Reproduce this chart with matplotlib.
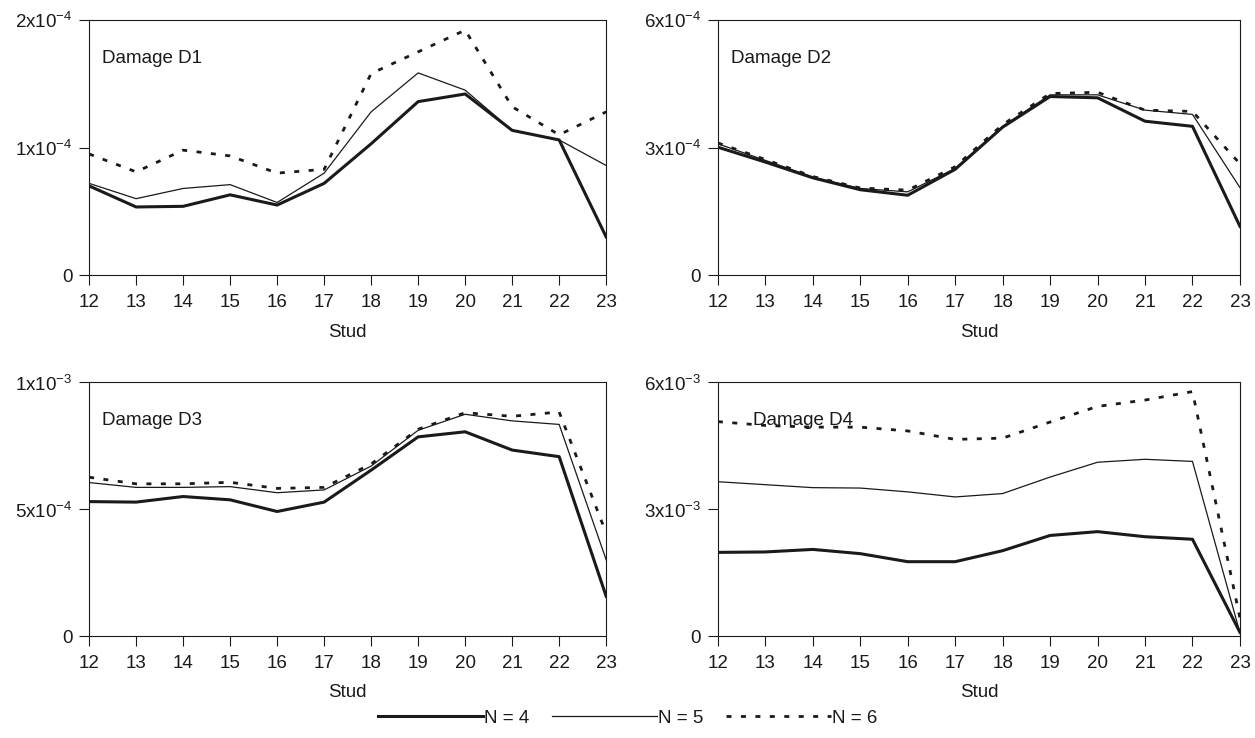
import matplotlib
matplotlib.use("Agg")
import matplotlib.pyplot as plt
import numpy as np

plt.rcParams['font.family'] = ['Liberation Sans', 'DejaVu Sans']
plt.rcParams['font.size'] = 13.5
plt.rcParams['mathtext.fontset'] = 'custom'
plt.rcParams['mathtext.rm'] = 'Liberation Sans'

studs = list(range(12, 24))

# Damage D1 (x1e-4)
d1_n4 = [0.70, 0.535, 0.54, 0.63, 0.55, 0.72, 1.03, 1.36, 1.42, 1.135, 1.06, 0.30]
d1_n5 = [0.72, 0.60, 0.68, 0.71, 0.57, 0.80, 1.28, 1.585, 1.45, 1.135, 1.06, 0.86]
d1_n6 = [0.95, 0.81, 0.98, 0.935, 0.80, 0.83, 1.58, 1.75, 1.92, 1.32, 1.10, 1.28]

# Damage D2 (x1e-4)
d2_n4 = [3.01, 2.66, 2.29, 2.01, 1.88, 2.49, 3.48, 4.20, 4.17, 3.62, 3.50, 1.15]
d2_n5 = [3.09, 2.70, 2.31, 2.04, 1.96, 2.51, 3.50, 4.24, 4.24, 3.88, 3.78, 2.06]
d2_n6 = [3.11, 2.72, 2.32, 2.05, 2.00, 2.55, 3.54, 4.27, 4.30, 3.88, 3.85, 2.62]

# Damage D3 (x1e-4)
d3_n4 = [5.30, 5.28, 5.50, 5.37, 4.91, 5.28, 6.54, 7.85, 8.05, 7.33, 7.07, 1.57]
d3_n5 = [6.05, 5.86, 5.86, 5.89, 5.65, 5.76, 6.70, 8.11, 8.74, 8.48, 8.34, 3.01]
d3_n6 = [6.26, 6.00, 6.00, 6.06, 5.82, 5.86, 6.78, 8.15, 8.80, 8.66, 8.83, 4.06]

# Damage D4 (x1e-3)
d4_n4 = [1.98, 1.99, 2.05, 1.95, 1.76, 1.76, 2.02, 2.38, 2.47, 2.35, 2.29, 0.09]
d4_n5 = [3.65, 3.58, 3.51, 3.50, 3.41, 3.29, 3.37, 3.76, 4.11, 4.18, 4.13, 0.08]
d4_n6 = [5.07, 4.98, 4.94, 4.94, 4.85, 4.65, 4.68, 5.06, 5.43, 5.58, 5.78, 0.43]

panels = [
    ("Damage D1", d1_n4, d1_n5, d1_n6, 1e-4, [0, 1, 2], ["0", "1x10$^{-4}$", "2x10$^{-4}$"]),
    ("Damage D2", d2_n4, d2_n5, d2_n6, 1e-4, [0, 3, 6], ["0", "3x10$^{-4}$", "6x10$^{-4}$"]),
    ("Damage D3", d3_n4, d3_n5, d3_n6, 1e-4, [0, 5, 10], ["0", "5x10$^{-4}$", "1x10$^{-3}$"]),
    ("Damage D4", d4_n4, d4_n5, d4_n6, 1e-3, [0, 3, 6], ["0", "3x10$^{-3}$", "6x10$^{-3}$"]),
]

positions = [
    [0.0710, 0.627, 0.412, 0.346],
    [0.572, 0.627, 0.416, 0.346],
    [0.0710, 0.138, 0.412, 0.344],
    [0.572, 0.138, 0.416, 0.344],
]
label_x = [0.024, 0.026, 0.024, 0.067]

ink = '#1a1a1a'
fig = plt.figure(figsize=(12.55, 7.38), dpi=100)

handles = []
for i, (title, n4, n5, n6, scale, yt, ylab) in enumerate(panels):
    ax = fig.add_axes(positions[i])
    s = np.array(studs)
    h4, = ax.plot(s, np.array(n4) * scale, color=ink, lw=2.2)
    h5, = ax.plot(s, np.array(n5) * scale, color=ink, lw=0.9)
    h6, = ax.plot(s, np.array(n6) * scale, color=ink, lw=2.0, linestyle=(0, (1.8, 3.4)))
    if i == 0:
        handles = [h4, h5, h6]
    ax.set_xlim(12, 23)
    ax.set_ylim(0, yt[-1] * scale)
    ax.set_xticks(studs)
    ax.set_yticks([v * scale for v in yt])
    ax.set_yticklabels(ylab)
    ax.tick_params(direction='out', length=7, width=0.8, colors=ink, labelsize=13.5)
    ax.tick_params(axis='x', pad=6.5)
    ax.tick_params(axis='y', pad=5)
    for sp in ax.spines.values():
        sp.set_linewidth(0.8)
        sp.set_color(ink)
    ax.set_xlabel("Stud", color=ink, fontsize=13.5, labelpad=9)
    ax.text(label_x[i], 0.85, title, transform=ax.transAxes, ha='left', va='center',
            fontsize=13.5, color=ink)

fig.legend(handles, ["N = 4", "N = 5", "N = 6"], loc='center', bbox_to_anchor=(0.5, 0.027),
           ncol=3, frameon=False, handlelength=5.6, handletextpad=0.05,
           columnspacing=1.2, fontsize=13.5, labelcolor=ink)

fig.savefig("out.png", dpi=100)
